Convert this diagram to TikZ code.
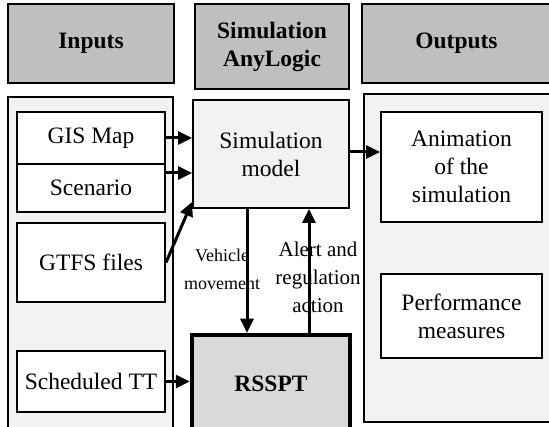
\documentclass[tikz,border=0pt]{standalone}
\usepackage{fontspec}
\setmainfont{Liberation Serif}
\usepackage{tikz}
\usetikzlibrary{arrows.meta}
\usetikzlibrary{positioning}
\definecolor{hdrgray}{RGB}{191,191,191}
\definecolor{pnlgray}{RGB}{242,242,242}
\definecolor{rssgray}{RGB}{217,217,217}
\tikzset{hdr/.style = {draw, fill = hdrgray, line width = 2pt, align = center,
    font = \fontsize{23.5}{28}\selectfont\bfseries}}
\tikzset{pnl/.style = {draw, fill = pnlgray, line width = 2pt}}
\tikzset{blk/.style = {draw, fill = white, line width = 2pt, align = center,
    font = \fontsize{23.5}{28}\selectfont}}
\tikzset{arr/.style = {line width = 3pt, -{Triangle[length = 14pt, width = 13pt]}}}
\tikzset{lbl/.style = {align = center, inner sep = 0}}

\begin{document}
\begin{tikzpicture}[x = 1pt, y = -1pt]
      \useasboundingbox (0, 0) rectangle (549, 427);

      % column headers
      \node [hdr, minimum width = 166, minimum height = 79] (hin) at (91, 43.5) {Inputs};
      \node [hdr, minimum width = 154, minimum height = 85] (hsim) at (272, 46.5) {Simulation\\AnyLogic};
      \node [hdr, minimum width = 189, minimum height = 79] (hout) at (456.5, 43.5) {Outputs};

      % panels
      \node [pnl, minimum width = 165, minimum height = 333] (pin) at (90.5, 263.5) {};
      \node [pnl, minimum width = 187, minimum height = 328] (pout) at (457.5, 258) {};

      % inputs
      \node [blk, minimum width = 148, minimum height = 52] (gis) at (91, 138) {GIS Map};
      \node [blk, minimum width = 148, minimum height = 48] (scen) at (91, 188) {Scenario};
      \node [blk, minimum width = 148, minimum height = 79] (gtfs) at (91, 262.5) {GTFS files};
      \node [blk, minimum width = 148, minimum height = 61] (stt) at (91, 381.5) {Scheduled TT};

      % simulation
      \node [blk, fill = pnlgray, minimum width = 156, minimum height = 108] (sim) at (271, 154) {Simulation\\model};
      \node [blk, fill = rssgray, line width = 4.5pt, minimum width = 158, minimum height = 97,
        font = \fontsize{23.5}{28}\selectfont\bfseries] (rsspt) at (271, 383.5) {RSSPT};

      % outputs
      \node [blk, minimum width = 161, minimum height = 110] (anim) at (461.5, 167) {Animation\\of the\\simulation};
      \node [blk, minimum width = 161, minimum height = 84] (perf) at (461.5, 316) {Performance\\measures};

      % connectors
      \coordinate (scenout) at ([yshift = 15pt] scen.east);
      \coordinate (simout) at ([yshift = 2pt] sim.east);
      \coordinate (vtop) at ([xshift = -24pt] sim.south);
      \coordinate (abot) at ([xshift = 38pt] rsspt.north);
      \draw [arr] (gis.east) -- (gis.east -| sim.west);
      \draw [arr] (scenout) -- (scenout -| sim.west);
      \draw [arr] (gtfs.east) -- ([yshift = 7pt] sim.south west);
      \draw [arr] (stt.east) -- (stt.east -| rsspt.west);
      \draw [arr] (simout) -- (simout -| anim.west);
      \draw [arr] (vtop) -- (vtop |- rsspt.north);
      \draw [arr] (abot) -- (abot |- sim.south);

      \node [lbl, font = \fontsize{18}{28}\selectfont] (veh) at (222, 269) {Vehicle\\movement};
      \node [lbl, font = \fontsize{21}{28}\selectfont] (alert) at (318, 277) {Alert and\\regulation\\action};
    \end{tikzpicture}
\end{document}
